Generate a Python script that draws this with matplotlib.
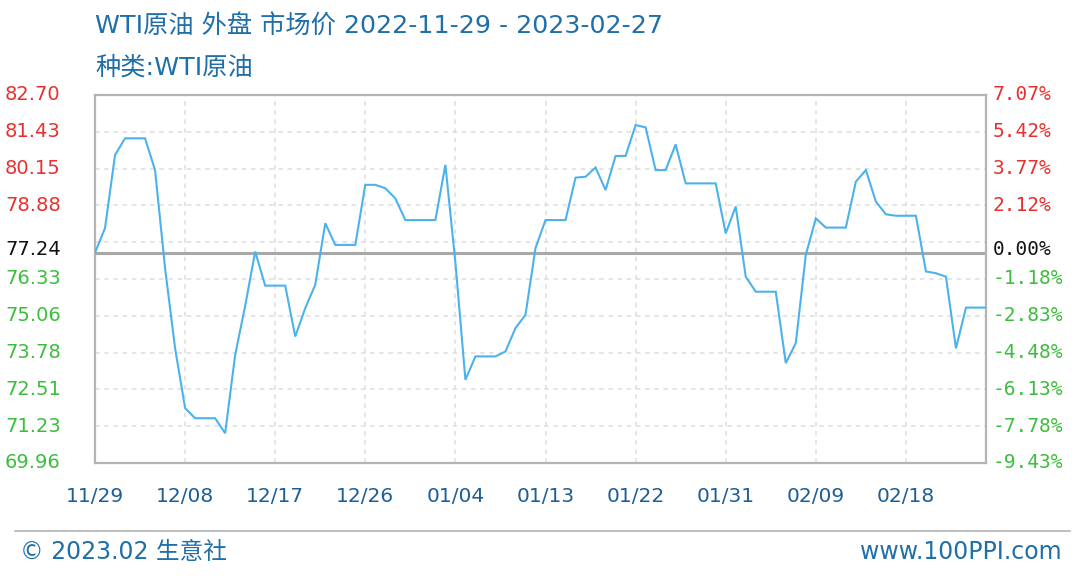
import matplotlib
matplotlib.use("Agg")
import matplotlib.pyplot as plt
from matplotlib.lines import Line2D
import matplotlib.transforms as mtransforms
import pandas as pd

plt.rcParams['font.family'] = ['Noto Sans CJK SC', 'DejaVu Sans']

# ---------------- data ----------------
start_date = "2022-11-29"
prices = [
    77.24, 78.09, 80.62, 81.20, 81.20, 81.20, 80.10, 76.70, 73.93, 71.86,
    71.51, 71.51, 71.51, 70.99, 73.70, 75.40, 77.28, 76.10, 76.10, 76.10,
    74.34, 75.32, 76.13, 78.26, 77.51, 77.51, 77.51, 79.59, 79.59, 79.47,
    79.12, 78.37, 78.37, 78.37, 78.37, 80.28, 76.90, 72.84, 73.65, 73.65,
    73.65, 73.82, 74.63, 75.09, 77.40, 78.37, 78.37, 78.37, 79.84, 79.87,
    80.19, 79.41, 80.59, 80.59, 81.66, 81.58, 80.10, 80.10, 80.99, 79.64,
    79.64, 79.64, 79.64, 77.91, 78.84, 76.41, 75.89, 75.89, 75.89, 73.42,
    74.11, 77.16, 78.43, 78.11, 78.11, 78.11, 79.70, 80.10, 79.01, 78.57,
    78.52, 78.52, 78.52, 76.59, 76.53, 76.41, 73.93, 75.34, 75.34, 75.34,
]
base_price = 77.24
ytick_values = [69.960, 71.234, 72.508, 73.782, 75.056, 76.330,
                77.604, 78.878, 80.152, 81.426, 82.700]
xtick_labels = ["11/29", "12/08", "12/17", "12/26", "01/04", "01/13",
                "01/22", "01/31", "02/09", "02/18"]
title_text = "WTI原油 外盘 市场价 2022-11-29 - 2023-02-27"
subtitle_text = "种类:WTI原油"
footer_left = "© 2023.02 生意社"
footer_right = "www.100PPI.com"

dates = pd.date_range(start_date, periods=len(prices), freq="D")
tick_dates = pd.to_datetime(["2022/" + s if s.startswith("1") else "2023/" + s
                             for s in xtick_labels], format="%Y/%m/%d")

# ---------------- figure ----------------
W, H = 1080, 576
fig = plt.figure(figsize=(W / 100, H / 100), dpi=100)
fig.patch.set_facecolor("white")
ax = fig.add_axes([95 / W, 1 - 463 / H, (986 - 95) / W, (463 - 95) / H])

ax.plot(dates, prices, color="#4cb2ec", lw=1.5, zorder=3, solid_joinstyle="miter")
ax.set_xlim(dates[0], dates[-1])
ax.set_ylim(ytick_values[0], ytick_values[-1])

# grid
for v in ytick_values[1:-1]:
    ax.axhline(v, color="#dedede", lw=1.1, ls=(0, (3, 3)), zorder=1)
for d in tick_dates[1:]:
    ax.axvline(d, color="#dedede", lw=1.1, ls=(0, (3, 3)), zorder=1)
ax.axhline(base_price, color="#a8a8a8", lw=2.2, zorder=2)

for sp in ax.spines.values():
    sp.set_color("#b4b4b4")
    sp.set_linewidth(1.6)

ax.set_yticks([])
ax.set_xticks(tick_dates)
ax.set_xticklabels(xtick_labels, color="#1c5e96", fontsize=14.5,
                   family=["DejaVu Sans"])
ax.tick_params(axis="x", length=0, pad=17)

red, green, black = "#e8302f", "#3cbe3c", "#111111"
trans_l = mtransforms.blended_transform_factory(fig.transFigure, ax.transData)
for v in ytick_values:
    if abs(v - base_price) < 0.6:
        continue
    c = red if v > base_price else green
    ax.text(5 / W, v, f"{v:.2f}", transform=trans_l, ha="left", va="center",
            color=c, fontsize=14, family=["DejaVu Sans"])
    pct = (v - base_price) / base_price * 100
    ax.text(993 / W, v, f"{pct:.2f}%", transform=trans_l, ha="left", va="center",
            color=c, fontsize=14, family=["DejaVu Sans Mono"])
ax.text(5 / W, base_price + 0.1, f"{base_price:.2f}", transform=trans_l, ha="left",
        va="center", color=black, fontsize=14, family=["DejaVu Sans"])
ax.text(993 / W, base_price + 0.1, "0.00%", transform=trans_l, ha="left",
        va="center", color=black, fontsize=14, family=["DejaVu Sans Mono"])

# titles
blue = "#1f6fa8"
lat_cjk = ["DejaVu Sans", "Noto Sans CJK SC"]
fig.text(95 / W, 1 - 27 / H, title_text, color=blue, fontsize=18.2, ha="left",
         va="center", family=lat_cjk)
fig.text(95 / W, 1 - 68 / H, subtitle_text, color=blue, fontsize=18.2, ha="left",
         va="center", family=lat_cjk)

# footer
fig.add_artist(Line2D([15 / W, 1070 / W], [1 - 531 / H, 1 - 531 / H],
                      transform=fig.transFigure, color="#b4b4b4", lw=1.2))
fig.text(20 / W, 1 - 552 / H, footer_left, color=blue, fontsize=17, ha="left",
         va="center", family=lat_cjk)
fig.text(1062 / W, 1 - 552 / H, footer_right, color=blue, fontsize=17, ha="right",
         va="center", family=lat_cjk)

fig.savefig("out.png", dpi=100, facecolor="white")
